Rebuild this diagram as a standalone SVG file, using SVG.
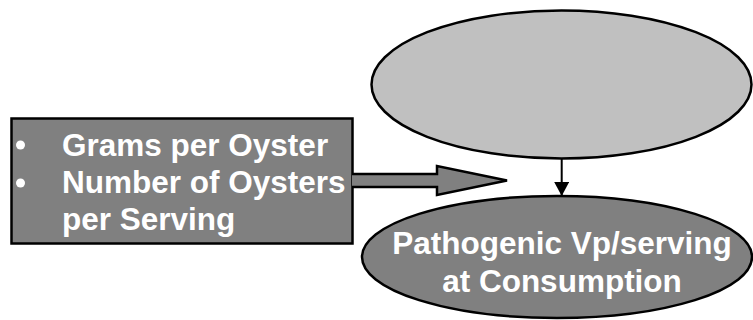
<svg xmlns="http://www.w3.org/2000/svg" width="753" height="320" viewBox="0 0 753 320">
<style>
.lbl{font-family:"Liberation Sans",Arial,sans-serif;font-weight:bold;font-size:31.5px;fill:#ffffff}
.shape{stroke:#000000;stroke-width:2.5}
</style>
<defs>
<marker id="ah" viewBox="0 0 14 15" refX="14" refY="7.5" markerWidth="14" markerHeight="15" markerUnits="userSpaceOnUse" orient="auto">
<path d="M0,0 L14,7.5 L0,15 Z" fill="#000000"/>
</marker>
</defs>
<rect width="753" height="320" fill="#ffffff"/>
<g id="node-top">
<ellipse class="shape" cx="561.5" cy="84.5" rx="190" ry="74" fill="#c0c0c0"/>
</g>
<g id="node-inputs">
<rect class="shape" x="11.5" y="118.5" width="341" height="125" fill="#808080"/>
<circle cx="20.5" cy="145" r="4.5" fill="#ffffff"/>
<circle cx="20.5" cy="183" r="4.5" fill="#ffffff"/>
<text class="lbl" x="62" y="156">Grams per Oyster</text>
<text class="lbl" x="62" y="193">Number of Oysters</text>
<text class="lbl" x="62" y="230">per Serving</text>
</g>
<g id="node-result">
<ellipse class="shape" cx="557" cy="257" rx="195" ry="61" fill="#808080"/>
<text class="lbl" x="562" y="254" text-anchor="middle">Pathogenic Vp/serving</text>
<text class="lbl" x="562" y="292" text-anchor="middle">at Consumption</text>
</g>
<g id="connectors">
<path class="shape" d="M352,174 L437,174 L437,166 L507,180.5 L437,195 L437,187 L352,187" fill="#808080" stroke-linejoin="miter"/>
<line x1="561.7" y1="159" x2="561.7" y2="196" stroke="#000000" stroke-width="2" marker-end="url(#ah)"/>
</g>
</svg>
